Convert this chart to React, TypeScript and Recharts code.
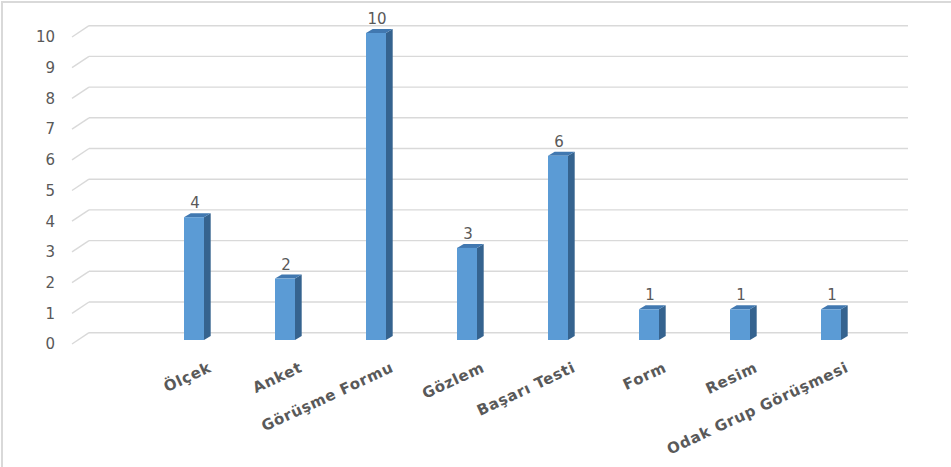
import React from 'react';
import {
  BarChart,
  Bar,
  XAxis,
  YAxis,
  CartesianGrid,
  LabelList,
} from 'recharts';

// categories and values
const categories = [
  'Ölçek',
  'Anket',
  'Görüşme Formu',
  'Gözlem',
  'Başarı Testi',
  'Form',
  'Resim',
  'Odak Grup Görüşmesi',
];
const counts = [4, 2, 10, 3, 6, 1, 1, 1];
const yTicks = [0, 1, 2, 3, 4, 5, 6, 7, 8, 9, 10];

const data = categories.map((name, i) => ({ name, count: counts[i] }));

// 3D look: back wall offset and bar depth
const DEPTH_X = 17;
const DEPTH_Y = 11.3;
const BAR_DX = 6.7;
const BAR_DY = 4;
const LIFT = 4;

const FONT = '"DejaVu Sans", sans-serif';

// gridline: short slant from the front edge, then the line on the back wall
const GridLine = (props: any) => {
  const { x1, y1, x2 } = props;
  const by = y1 - DEPTH_Y;
  return (
    <g key={`g-${y1}`}>
      <line x1={x1} y1={y1} x2={x1 + DEPTH_X} y2={by} stroke="#d9d9d9" strokeWidth={1.4} />
      <line x1={x1 + DEPTH_X} y1={by} x2={x2 + DEPTH_X} y2={by} stroke="#d9d9d9" strokeWidth={1.4} />
    </g>
  );
};

const Bar3D = (props: any) => {
  const { x, y, width, height } = props;
  if (!height) return null;
  const top = y - LIFT;
  const bottom = y + height - LIFT;
  const r = x + width;
  return (
    <g>
      <polygon
        points={`${r},${top} ${r + BAR_DX},${top - BAR_DY} ${r + BAR_DX},${bottom - BAR_DY} ${r},${bottom}`}
        fill="#35638f"
      />
      <polygon
        points={`${x},${top} ${r},${top} ${r + BAR_DX},${top - BAR_DY} ${x + BAR_DX},${top - BAR_DY}`}
        fill="#4178b0"
      />
      <rect x={x} y={top} width={width} height={height} fill="#5b9bd5" />
    </g>
  );
};

const ValueLabel = (props: any) => {
  const { x, y, width, value } = props;
  return (
    <text
      x={x + width / 2 + 1}
      y={y - LIFT - 9}
      textAnchor="middle"
      fontFamily={FONT}
      fontSize={15}
      fill="#595959"
    >
      {value}
    </text>
  );
};

const CategoryTick = (props: any) => {
  const { x, y, payload } = props;
  const ax = x + 19;
  const ay = y + 19;
  return (
    <text
      x={ax}
      y={ay}
      textAnchor="end"
      transform={`rotate(-25, ${ax}, ${ay})`}
      fontFamily={FONT}
      fontSize={15}
      fontWeight="bold"
      letterSpacing={0.7}
      fill="#595959"
    >
      {payload.value}
    </text>
  );
};

export default function App() {
  return (
    <div
      style={{
        position: 'absolute',
        left: 0,
        top: 0,
        width: 951,
        height: 467,
        background: '#fff',
      }}
    >
      <div
        style={{
          position: 'absolute',
          left: 1,
          top: 1,
          width: 960,
          height: 470,
          borderLeft: '2px solid #d9d9d9',
          borderTop: '2px solid #d9d9d9',
        }}
      />
      <BarChart
        width={951}
        height={467}
        data={data}
        margin={{ top: 37, right: 60, left: 0, bottom: 63 }}
      >
        <CartesianGrid vertical={false} horizontal={GridLine} />
        <XAxis
          dataKey="name"
          interval={0}
          axisLine={false}
          tickLine={false}
          height={60}
          padding={{ left: 76, right: 15 }}
          tick={CategoryTick}
        />
        <YAxis
          width={72}
          domain={[0, 10]}
          ticks={yTicks}
          axisLine={false}
          tickLine={false}
          tickMargin={11}
          tick={{ fontFamily: FONT, fontSize: 15, fill: '#595959' }}
        />
        <Bar dataKey="count" barSize={20} shape={Bar3D} isAnimationActive={false}>
          <LabelList dataKey="count" content={ValueLabel} />
        </Bar>
      </BarChart>
    </div>
  );
}
